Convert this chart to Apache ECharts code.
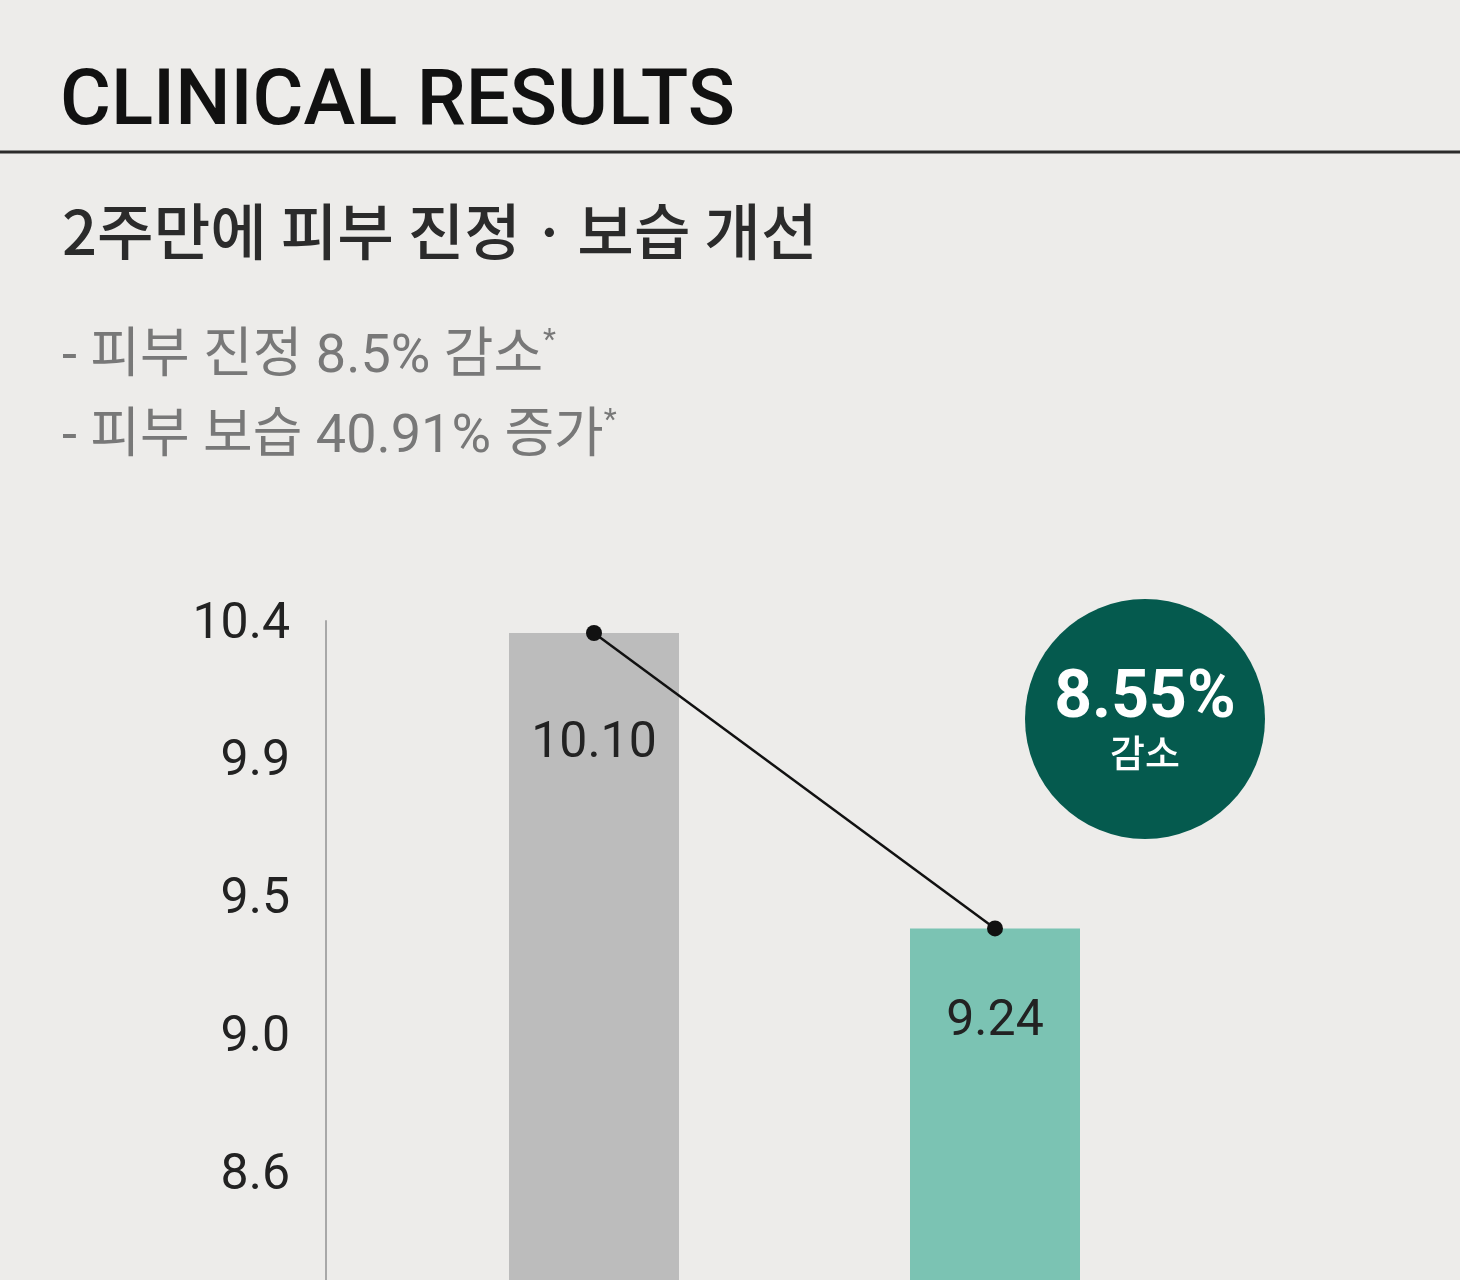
<!DOCTYPE html>
<html>
<head>
<meta charset="utf-8">
<script src="https://cdn.jsdelivr.net/npm/echarts@6/dist/echarts.min.js"></script>
<style>
html,body{margin:0;padding:0;background:#edecea;overflow:hidden;width:1460px;height:1280px;}
#wrap{width:1460px;height:1280px;overflow:hidden;position:relative;}
#chart{width:1460px;height:1400px;}
</style>
</head>
<body>
<div id="wrap"><div id="chart"></div></div>
<script>
// ---- data ----
const categories = ['사용 전', '사용 2주 후'];
const skinValues = [10.10, 9.24];
const yTickLabels = ['8.1', '8.6', '9.0', '9.5', '9.9', '10.4'];
const titleText = 'CLINICAL RESULTS';
const subtitleText = '2주만에 피부 진정ㆍ보습 개선';
const bulletLines = ['- 피부 진정 8.5% 감소', '- 피부 보습 40.91% 증가'];
const reductionText = '8.55%';
const reductionWord = '감소';

// ---- styles ----
const barColors = ['#bcbcbc', '#7bc3b3'];
const labelDistances = [86, 69];
const LATIN = 'Roboto, "Noto Sans CJK KR"';
const KR = '"Noto Sans CJK KR", Roboto';

const chart = echarts.init(document.getElementById('chart'), null, {renderer: 'canvas'});

const bulletGraphics = bulletLines.map((t, i) => ({
  type: 'text',
  x: 62,
  y: 358 + i * 80,
  silent: true,
  style: {
    text: '{m|' + t + '}{s|*}',
    verticalAlign: 'middle',
    align: 'left',
    rich: {
      m: {fontSize: 54, fontFamily: LATIN, fontWeight: 400, fill: '#787878', lineHeight: 64},
      s: {fontSize: 30, fontFamily: LATIN, fontWeight: 400, fill: '#787878', lineHeight: 30, verticalAlign: 'top'}
    }
  }
}));

const option = {
  backgroundColor: '#edecea',
  animation: false,
  grid: {left: 393.5, width: 802, top: 621, height: 688.75, containLabel: false, outerBoundsMode: 'none'},
  xAxis: {type: 'category', data: categories, show: false},
  yAxis: [
    {
      type: 'value',
      min: 0,
      max: yTickLabels.length - 1,
      interval: 1,
      position: 'left',
      offset: 67.5,
      axisLine: {show: true, lineStyle: {color: '#a8a8a8', width: 2}},
      axisTick: {show: false},
      splitLine: {show: false},
      axisLabel: {
        margin: 36,
        formatter: v => (yTickLabels[v] !== undefined ? '{t|' + yTickLabels[v] + '}' : ''),
        rich: {
          t: {fontSize: 50, fontFamily: 'Roboto', fontWeight: 400, color: '#222', lineHeight: 50, padding: [8, 0, 0, 0]}
        }
      }
    },
    {
      type: 'value',
      min: 8.13,
      max: 10.135,
      show: false,
      splitLine: {show: false}
    }
  ],
  series: [
    {
      type: 'bar',
      yAxisIndex: 1,
      barWidth: 170,
      silent: true,
      data: skinValues.map((v, i) => ({
        value: v,
        itemStyle: {color: barColors[i]},
        label: {distance: labelDistances[i]}
      })),
      label: {
        show: true,
        position: 'insideTop',
        fontSize: 50,
        fontFamily: 'Roboto',
        fontWeight: 400,
        color: '#222',
        formatter: p => Number(p.value).toFixed(2)
      }
    },
    {
      type: 'line',
      yAxisIndex: 1,
      data: skinValues,
      symbol: 'circle',
      symbolSize: 16,
      silent: true,
      z: 5,
      lineStyle: {color: '#111', width: 2.5},
      itemStyle: {color: '#111'}
    }
  ],
  graphic: [
    {
      type: 'text', x: 60, y: 104, silent: true,
      style: {text: titleText, font: '500 78px Roboto', fill: '#111', verticalAlign: 'middle', align: 'left'}
    },
    {
      type: 'line', silent: true,
      shape: {x1: 0, y1: 152, x2: 1460, y2: 152},
      style: {stroke: '#2b2b2b', lineWidth: 3}
    },
    {
      type: 'text', x: 62, y: 232, silent: true,
      style: {text: subtitleText, font: '500 61.5px ' + KR, fill: '#2b2b2b', verticalAlign: 'middle', align: 'left'}
    },
    ...bulletGraphics,
    {
      type: 'circle', silent: true,
      shape: {cx: 1145, cy: 719, r: 120},
      style: {fill: '#055a4e'}
    },
    {
      type: 'text', x: 1145, y: 700, silent: true,
      style: {text: reductionText, font: '700 66px Roboto', fill: '#ffffff', align: 'center', verticalAlign: 'middle'}
    },
    {
      type: 'text', x: 1145, y: 753, silent: true,
      style: {text: reductionWord, font: '500 38px ' + KR, fill: '#ffffff', align: 'center', verticalAlign: 'middle'}
    }
  ]
};
chart.setOption(option);
</script>
</body>
</html>
